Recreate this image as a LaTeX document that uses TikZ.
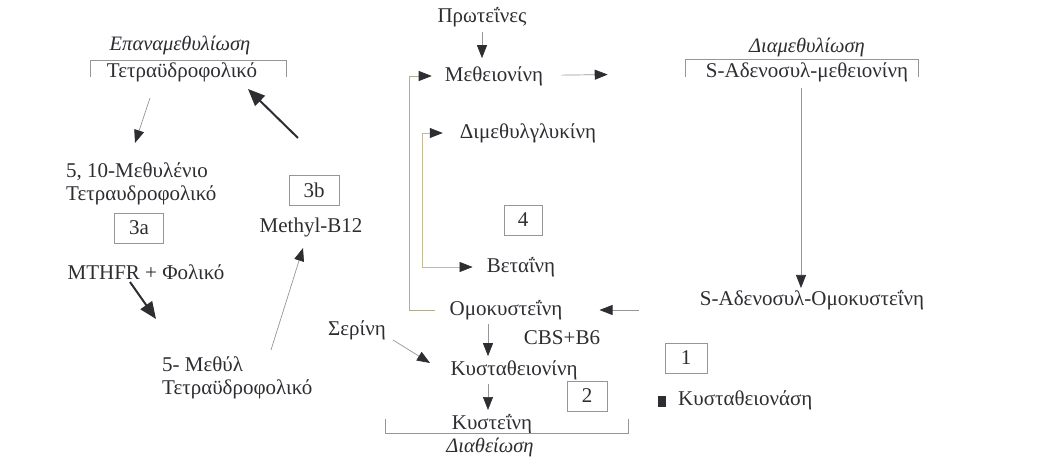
\documentclass[tikz,border=0pt]{standalone}
\usepackage{fontspec}
\setmainfont{Liberation Serif}
\usetikzlibrary{arrows.meta}
\definecolor{ink}{RGB}{45,45,50}
\definecolor{wire}{RGB}{150,150,150}
\definecolor{tan}{RGB}{200,185,150}
\tikzset{
  arr/.tip={Triangle[length=13pt,width=10pt,color=ink]},
  lbl/.style={text=ink, font=\fontsize{21}{23}\selectfont, inner sep=2pt},
  hd/.style={lbl, font=\fontsize{20.5}{23}\selectfont\itshape},
  numbox/.style={lbl, draw=wire, minimum height=30pt},
  fin/.style={-arr, draw=wire, line width=0.7pt},
  bold/.style={-{Triangle[length=17pt,width=14pt]}, draw=ink, line width=2pt},
  brk/.style={draw=wire, line width=0.7pt}
}
\begin{document}
\begin{tikzpicture}[x=1pt, y=-1pt]
\useasboundingbox (0,0) rectangle (1042,460);

\node[hd] at (180,45) (epan) {Επαναμεθυλίωση};
\node[lbl] at (182,72) (thf) {Τετραϋδροφολικό};
\node[lbl, align=left, anchor=west] at (64,184) (mth) {5, 10-Μεθυλένιο\\Τετραυδροφολικό};
\node[numbox, minimum width=50pt] at (314,190) (b3b) {3b};
\node[numbox, minimum width=49pt] at (139,228) (b3a) {3a};
\node[lbl] at (311,227) (mb) {Methyl-B12};
\node[lbl] at (146,272) (mthfr) {MTHFR + Φολικό};
\node[lbl, align=left, anchor=west] at (160,378) (mthf) {5- Μεθύλ\\Τετραϋδροφολικό};
\node[lbl] at (357,330) (ser) {Σερίνη};

\node[lbl] at (482,17) (prot) {Πρωτεΐνες};
\node[lbl] at (494,76) (met) {Μεθειονίνη};
\node[lbl] at (528,133) (dmg) {Διμεθυλγλυκίνη};
\node[numbox, minimum width=38pt] at (523,220) (b4) {4};
\node[lbl] at (521,267) (bet) {Βεταΐνη};
\node[lbl] at (506,310) (hcy) {Ομοκυστεΐνη};
\node[lbl] at (562,338) (cbs) {CBS+B6};
\node[lbl] at (514,370) (cth) {Κυσταθειονίνη};
\node[numbox, minimum width=40pt] at (587,396) (b2) {2};
\node[lbl] at (492,424) (cys) {Κυστεΐνη};
\node[hd] at (490,447) (diath) {Διαθείωση};

\node[hd] at (807,47) (diam) {Διαμεθυλίωση};
\node[lbl] at (807,72) (sam) {S-Αδενοσυλ-μεθειονίνη};
\node[lbl] at (812,300) (sah) {S-Αδενοσυλ-Ομοκυστεΐνη};
\node[numbox, minimum width=42pt] at (686,358) (b1) {1};
\node[lbl, anchor=west] at (676,400) (cbsase) {Κυσταθειονάση};
\fill[ink] (658,396) rectangle (666,407);

\draw[brk] (90,77) -- (90,60) -- (286,60) -- (286,77);
\draw[brk] (685,77) -- (685,59) -- (918,59) -- (918,77);
\draw[brk] (385,419) -- (385,433) -- (628,433) -- (628,419);

\draw[fin] ([shift={(-32,26)}]thf.center) -- ([shift={(71,-41)}]mth.west);
\draw[bold] ([shift={(-13,-89)}]mb.center) -- ([shift={(66,17)}]thf.center);
\draw[bold] ([shift={(-16,10)}]mthfr.center) -- ([shift={(-4,-59)}]mthf.west);
\draw[fin] ([shift={(111,-28)}]mthf.west) -- ([shift={(-8,21)}]mb.center);
\draw[fin] ([shift={(36,10)}]ser.center) -- ([shift={(-84,-7)}]cth.center);

\draw[fin, shorten <=3pt, shorten >=6pt] (prot.south) -- (prot.south |- met.north);
\draw[fin, shorten <=16pt, shorten >=96pt] (met) -- (sam);
\draw[fin, shorten <=4pt] ([xshift=-6pt]sam.south) -- ([xshift=-6pt]sam.south |- sah.north);
\draw[fin, shorten <=59pt, shorten >=35pt] (hcy.east -| sah.west) -- (hcy.east);
\draw[fin, shorten <=2pt, shorten >=2pt] ([xshift=-18pt]hcy.south) -- ([xshift=-18pt]hcy.south |- cth.north);
\draw[fin, shorten <=2pt, shorten >=2pt] ([xshift=-26pt]cth.south) -- ([xshift=-26pt]cth.south |- cys.north);

\draw[fin, draw=tan!60!wire, shorten <=13pt, shorten >=11pt] (hcy.west) -- ++(-38,0) |- (met.west);
\draw[arr-arr, draw=tan, line width=0.7pt, shorten <=12pt, shorten >=15pt] (bet.west) -- ++(-62,0) |- (dmg.west);
\end{tikzpicture}
\end{document}
